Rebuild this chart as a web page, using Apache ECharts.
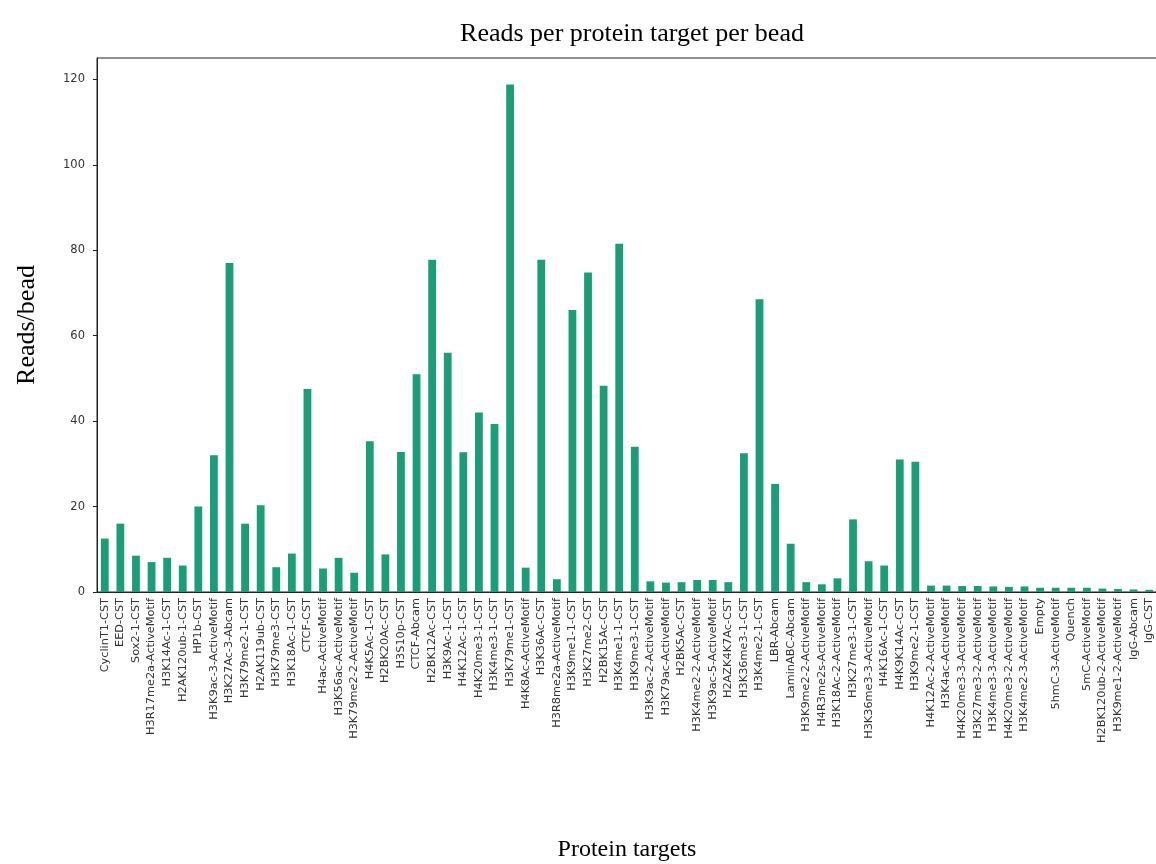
<!DOCTYPE html>
<html>
<head>
<meta charset="utf-8">
<script src="https://cdn.jsdelivr.net/npm/echarts@6/dist/echarts.min.js"></script>
<style>
  html, body { margin: 0; padding: 0; background: #ffffff; }
  #chart { width: 1156px; height: 864px; }
</style>
</head>
<body>
<div id="chart"></div>
<script>
// Protein targets, in plotting order
const targets = [
  'CyclinT1-CST', 'EED-CST', 'Sox2-1-CST', 'H3R17me2a-ActiveMotif', 'H3K14Ac-1-CST',
  'H2AK120ub-1-CST', 'HP1b-CST', 'H3K9ac-3-ActiveMotif', 'H3K27Ac-3-Abcam', 'H3K79me2-1-CST',
  'H2AK119ub-CST', 'H3K79me3-CST', 'H3K18Ac-1-CST', 'CTCF-CST', 'H4ac-ActiveMotif',
  'H3K56ac-ActiveMotif', 'H3K79me2-2-ActiveMotif', 'H4K5Ac-1-CST', 'H2BK20Ac-CST', 'H3S10p-CST',
  'CTCF-Abcam', 'H2BK12Ac-CST', 'H3K9Ac-1-CST', 'H4K12Ac-1-CST', 'H4K20me3-1-CST',
  'H3K4me3-1-CST', 'H3K79me1-CST', 'H4K8Ac-ActiveMotif', 'H3K36Ac-CST', 'H3R8me2a-ActiveMotif',
  'H3K9me1-1-CST', 'H3K27me2-CST', 'H2BK15Ac-CST', 'H3K4me1-1-CST', 'H3K9me3-1-CST',
  'H3K9ac-2-ActiveMotif', 'H3K79ac-ActiveMotif', 'H2BK5Ac-CST', 'H3K4me2-2-ActiveMotif', 'H3K9ac-5-ActiveMotif',
  'H2AZK4K7Ac-CST', 'H3K36me3-1-CST', 'H3K4me2-1-CST', 'LBR-Abcam', 'LaminABC-Abcam',
  'H3K9me2-2-ActiveMotif', 'H4R3me2s-ActiveMotif', 'H3K18Ac-2-ActiveMotif', 'H3K27me3-1-CST', 'H3K36me3-3-ActiveMotif',
  'H4K16Ac-1-CST', 'H4K9K14Ac-CST', 'H3K9me2-1-CST', 'H4K12Ac-2-ActiveMotif', 'H3K4ac-ActiveMotif',
  'H4K20me3-3-ActiveMotif', 'H3K27me3-2-ActiveMotif', 'H3K4me3-3-ActiveMotif', 'H4K20me3-2-ActiveMotif', 'H3K4me2-3-ActiveMotif',
  'Empty', '5hmC-3-ActiveMotif', 'Quench', '5mC-ActiveMotif', 'H2BK120ub-2-ActiveMotif',
  'H3K9me1-2-ActiveMotif', 'IgG-Abcam', 'IgG-CST'
];

// Mean reads per bead for each target
const readsPerBead = [
  12.5, 16.0, 8.5, 7.0, 8.0,
  6.2, 20.0, 32.0, 77.0, 16.0,
  20.3, 5.8, 9.0, 47.5, 5.5,
  8.0, 4.5, 35.3, 8.8, 32.8,
  51.0, 77.8, 56.0, 32.7, 42.0,
  39.3, 118.8, 5.7, 77.8, 3.0,
  66.0, 74.8, 48.3, 81.5, 34.0,
  2.5, 2.2, 2.3, 2.8, 2.8,
  2.3, 32.5, 68.5, 25.3, 11.3,
  2.3, 1.8, 3.2, 17.0, 7.2,
  6.2, 31.0, 30.5, 1.5, 1.5,
  1.4, 1.4, 1.3, 1.2, 1.3,
  1.0, 1.0, 1.0, 1.0, 0.8,
  0.7, 0.6, 0.5
];

// Value-axis ticks
const yTicks = [0, 20, 40, 60, 80, 100, 120];
const yMax = 125;

const chart = echarts.init(document.getElementById('chart'), null, { renderer: 'canvas' });

const serif = '"Liberation Serif", "DejaVu Serif", serif';
const sans = '"DejaVu Sans", sans-serif';

chart.setOption({
  animation: false,
  backgroundColor: '#ffffff',
  title: {
    text: 'Reads per protein target per bead',
    left: 627,
    textAlign: 'center',
    top: 16,
    textStyle: { fontFamily: serif, fontSize: 26, fontWeight: 'normal', color: '#000' }
  },
  grid: {
    left: 97, top: 58, right: -1, bottom: 272,
    outerBoundsMode: 'none',
    containLabel: false,
    show: true, borderColor: '#222', borderWidth: 1, backgroundColor: 'transparent'
  },
  xAxis: {
    type: 'category',
    data: targets,
    boundaryGap: true,
    name: 'Protein targets',
    nameLocation: 'middle',
    nameGap: 246,
    nameTextStyle: { fontFamily: serif, fontSize: 24, color: '#000' },
    axisLine: { lineStyle: { color: '#222', width: 1 } },
    axisTick: { alignWithLabel: true, length: 4, lineStyle: { color: '#222' } },
    axisLabel: {
      interval: 0, rotate: 90, margin: 6,
      fontFamily: sans, fontSize: 11.3, color: '#333'
    },
    splitLine: { show: false }
  },
  yAxis: {
    type: 'value',
    min: 0, max: yMax,
    name: 'Reads/bead',
    nameLocation: 'middle',
    nameGap: 57,
    nameRotate: 90,
    nameTextStyle: { fontFamily: serif, fontSize: 26, color: '#000' },
    axisLine: { show: true, lineStyle: { color: '#222', width: 1 } },
    axisTick: { show: true, length: 4, lineStyle: { color: '#222' }, customValues: yTicks },
    axisLabel: { fontFamily: sans, fontSize: 11.5, color: '#333', margin: 12, customValues: yTicks },
    splitLine: { show: false }
  },
  series: [{
    type: 'bar',
    data: readsPerBead,
    barWidth: '50%',
    itemStyle: { color: '#1b9e77' }
  }]
});
</script>
</body>
</html>
